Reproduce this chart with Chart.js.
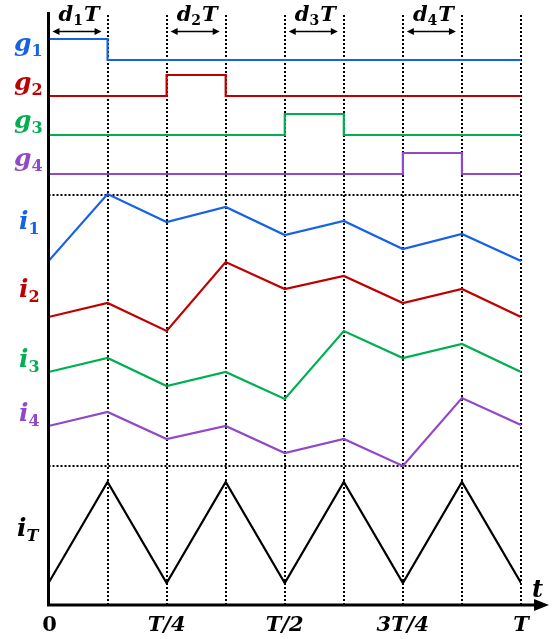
<!DOCTYPE html>
<html>
<head>
<meta charset="utf-8">
<script src="https://cdn.jsdelivr.net/npm/chart.js@4.4.1/dist/chart.umd.min.js"></script>
<style>
  body { margin: 0; background: #fff; }
  canvas { display: block; }
</style>
</head>
<body>
<canvas id="timing" width="559" height="639"></canvas>
<script>
// time points, in fractions of T
const t = [0, 0.125, 0.25, 0.375, 0.5, 0.625, 0.75, 0.875, 1];
const tickPos = [0, 0.25, 0.5, 0.75, 1];
const tickLabels = ['0', 'T/4', 'T/2', '3T/4', 'T'];

// gate signals (1 = on) per eighth of T, with low/high levels
const g1 = [1, 0, 0, 0, 0, 0, 0, 0, 0];
const g2 = [0, 0, 1, 0, 0, 0, 0, 0, 0];
const g3 = [0, 0, 0, 0, 1, 0, 0, 0, 0];
const g4 = [0, 0, 0, 0, 0, 0, 1, 0, 0];
const gLow = [545, 509, 470, 431];
const gHigh = 21;

// phase currents and total current
const i1 = [344, 411, 383, 398, 370, 384, 356, 371, 344];
const i2 = [288, 302, 274, 343, 316, 329, 302, 316, 288];
const i3 = [233, 247, 219, 233, 206, 274, 247, 261, 233];
const i4 = [179, 193, 166, 179, 152, 166, 139, 207, 180];
const iT = [22, 123, 22, 123, 22, 123, 22, 123, 22];

// dotted guide levels
const guideLevels = [410, 139];
const guideTop = 590;

const colors = ['#1562e6', '#c00000', '#00b050', '#9148c9'];
const FONT = '"DejaVu Serif"';

const pts = arr => arr.map((v, k) => ({ x: t[k], y: v }));
// each on-value holds from its own time to the next one
const gate = (arr, n) => arr.map((v, k) => ({ x: t[k], y: gLow[n] + (k > 0 ? arr[k - 1] : v) * gHigh }));

const datasets = [];
[g1, g2, g3, g4].forEach((g, n) => {
  datasets.push({ data: gate(g, n), borderColor: colors[n], stepped: 'after' });
});
[i1, i2, i3, i4].forEach((s, n) => {
  datasets.push({ data: pts(s), borderColor: colors[n] });
});
datasets.push({ data: pts(iT), borderColor: '#000' });

// draw letter with subscript
function sub(ctx, main, s, x, y, color, size) {
  ctx.fillStyle = color;
  ctx.textAlign = 'left';
  ctx.textBaseline = 'alphabetic';
  ctx.font = 'italic bold ' + size + 'px ' + FONT;
  ctx.fillText(main, x, y);
  const w = ctx.measureText(main).width;
  if (!s) return;
  ctx.font = (s === 'T' ? 'italic ' : '') + 'bold ' + Math.round(size * 0.62) + 'px ' + FONT;
  ctx.fillText(s, x + w, y + size * 0.2);
}

function arrowHead(ctx, x, y, dir) {
  ctx.beginPath();
  ctx.moveTo(x, y);
  ctx.lineTo(x - dir * 7, y - 3.5);
  ctx.lineTo(x - dir * 7, y + 3.5);
  ctx.closePath();
  ctx.fill();
}

const guides = {
  id: 'guides',
  beforeDatasetsDraw(chart) {
    const { ctx, scales: { x, y } } = chart;
    ctx.save();
    ctx.strokeStyle = '#000';
    ctx.lineWidth = 2;
    ctx.setLineDash([2, 2]);
    t.slice(1).forEach(v => {
      const px = Math.round(x.getPixelForValue(v));
      ctx.beginPath();
      ctx.moveTo(px, y.getPixelForValue(guideTop));
      ctx.lineTo(px, y.getPixelForValue(0));
      ctx.stroke();
    });
    guideLevels.forEach(v => {
      const py = Math.round(y.getPixelForValue(v));
      ctx.beginPath();
      ctx.moveTo(x.getPixelForValue(0), py);
      ctx.lineTo(x.getPixelForValue(1), py);
      ctx.stroke();
    });
    ctx.restore();
  },
  afterDraw(chart) {
    const { ctx, scales: { x, y } } = chart;
    const x0 = x.getPixelForValue(0), y0 = y.getPixelForValue(0);
    ctx.save();
    // axes
    ctx.strokeStyle = '#000';
    ctx.fillStyle = '#000';
    ctx.lineWidth = 3;
    ctx.beginPath();
    ctx.moveTo(x0, y.getPixelForValue(593));
    ctx.lineTo(x0, y0);
    ctx.lineTo(536, y0);
    ctx.stroke();
    ctx.beginPath();
    ctx.moveTo(549, y0);
    ctx.lineTo(534, y0 - 6);
    ctx.lineTo(534, y0 + 6);
    ctx.closePath();
    ctx.fill();
    sub(ctx, 't', '', 532, 597, '#000', 24);

    // tick labels
    ctx.textAlign = 'center';
    ctx.textBaseline = 'alphabetic';
    ctx.fillStyle = '#000';
    tickLabels.forEach((lab, k) => {
      ctx.font = (lab === '0' ? '' : 'italic ') + 'bold 21px ' + FONT;
      ctx.fillText(lab, x.getPixelForValue(tickPos[k]) + (k === 0 ? 1 : 0), 631);
    });

    // duty-cycle arrows
    ctx.lineWidth = 1.5;
    for (let n = 0; n < 4; n++) {
      const a = x.getPixelForValue(t[2 * n]) + 4;
      const b = x.getPixelForValue(t[2 * n + 1]) - 6;
      const ya = 31.5;
      ctx.beginPath();
      ctx.moveTo(a + 3, ya);
      ctx.lineTo(b - 3, ya);
      ctx.stroke();
      arrowHead(ctx, a, ya, -1);
      arrowHead(ctx, b, ya, 1);
      const mid = (x.getPixelForValue(t[2 * n]) + x.getPixelForValue(t[2 * n + 1])) / 2;
      ctx.font = 'italic bold 21px ' + FONT;
      const wd = ctx.measureText('d').width;
      const wT = ctx.measureText('T').width;
      ctx.font = 'bold 14px ' + FONT;
      const ws = ctx.measureText(String(n + 1)).width;
      const px = mid - (wd + ws + wT + 1) / 2 + 1;
      ctx.textAlign = 'left';
      ctx.font = 'italic bold 21px ' + FONT;
      ctx.fillText('d', px, 21);
      ctx.fillText('T', px + wd + ws + 1, 21);
      ctx.font = 'bold 14px ' + FONT;
      ctx.fillText(String(n + 1), px + wd, 25);
    }

    // series labels
    const gY = [51, 90, 128, 166];
    const iY = [229, 297, 367, 421];
    for (let n = 0; n < 4; n++) {
      sub(ctx, 'g', String(n + 1), 14, gY[n], colors[n], 25);
      sub(ctx, 'i', String(n + 1), 19, iY[n], colors[n], 25);
    }
    sub(ctx, 'i', 'T', 17, 536, '#000', 25);
    ctx.restore();
  }
};

new Chart(document.getElementById('timing'), {
  type: 'line',
  data: { datasets },
  options: {
    responsive: false,
    animation: false,
    layout: { padding: { left: 48.5, right: 38, top: 12, bottom: 34 } },
    elements: {
      line: { borderWidth: 2.2, tension: 0 },
      point: { radius: 0 }
    },
    scales: {
      x: { type: 'linear', min: 0, max: 1, display: false },
      y: { min: 0, max: 593, display: false }
    },
    plugins: { legend: { display: false }, tooltip: { enabled: false } }
  },
  plugins: [guides]
});
</script>
</body>
</html>
